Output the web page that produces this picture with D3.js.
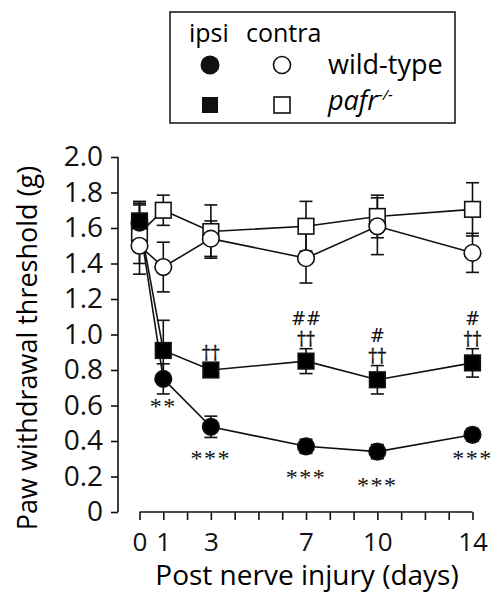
<!DOCTYPE html>
<html>
<head>
<meta charset="utf-8">
<script src="https://cdn.jsdelivr.net/npm/d3@7"></script>
<style>
  body { margin: 0; background: white; }
  svg { font-family: "Open Sans", "DejaVu Sans", sans-serif; }
  .axis path, .axis line { stroke: #111; stroke-width: 1.6; }
  .axis text { fill: #111; font-family: "Open Sans", sans-serif; }
</style>
</head>
<body>
<svg id="chart" width="495" height="596"></svg>
<script>
// days after nerve injury
const days = [0, 1, 3, 7, 10, 14]
const dayLabels = [0, 1, 3, 7, 10, 14]

// mean and SEM per group
const wtIpsi = [1.63, 0.75, 0.48, 0.37, 0.34, 0.435]
const wtIpsiErr = [0.1, 0.085, 0.06, 0.04, 0.04, 0.035]
const wtContra = [1.50, 1.38, 1.54, 1.43, 1.61, 1.46]
const wtContraErr = [0.16, 0.14, 0.1, 0.14, 0.16, 0.11]
const koIpsi = [1.64, 0.91, 0.80, 0.85, 0.745, 0.84]
const koIpsiErr = [0.11, 0.17, 0.04, 0.07, 0.08, 0.08]
const koContra = [1.57, 1.70, 1.58, 1.61, 1.665, 1.705]
const koContraErr = [0.17, 0.085, 0.15, 0.14, 0.12, 0.15]

// significance marks
const starMarks = ['', '**', '***', '***', '***', '***']
const daggerMarks = ['', '', '††', '††', '††', '††']
const hashMarks = ['', '', '', '##', '#', '#']

const yTicks = [0, 0.2, 0.4, 0.6, 0.8, 1.0, 1.2, 1.4, 1.6, 1.8, 2.0]

const svg = d3.select('#chart')

const x = d3.scaleLinear().domain([0, 14]).range([139.5, 472.5])
const y = d3.scaleLinear().domain([0, 2]).range([512, 157])

// y axis
svg.append('g')
  .attr('class', 'axis')
  .attr('transform', 'translate(118,0)')
  .call(d3.axisLeft(y).tickValues(yTicks).tickSize(7).tickPadding(8)
    .tickFormat(d => d == 0 ? '0' : d3.format('.1f')(d)))
  .call(g => g.select('.domain').attr('d', `M-0,${y(0)}V${y(2)}`))
  .call(g => g.attr('font-size', null).attr('font-family', null))
  .selectAll('text').style('font-size', '28px')

// x axis
svg.append('g')
  .attr('class', 'axis')
  .attr('transform', 'translate(0,512)')
  .call(d3.axisBottom(x).tickValues(d3.range(0, 15)).tickSize(8).tickPadding(13)
    .tickFormat(d => dayLabels.includes(d) ? d : ''))
  .call(g => g.select('.domain').attr('d', `M${x(0)},0H${x(14)}`))
  .call(g => g.attr('font-size', null).attr('font-family', null))
  .selectAll('text').style('font-size', '26px')

svg.append('text')
  .attr('x', 307).attr('y', 585)
  .attr('text-anchor', 'middle')
  .style('font-size', '28px')
  .text('Post nerve injury (days)')

svg.append('text')
  .attr('transform', 'translate(37,348) rotate(-90)')
  .attr('text-anchor', 'middle')
  .style('font-size', '27px')
  .text('Paw withdrawal threshold (g)')

const series = [
  {v: koContra, e: koContraErr, shape: 'square', fill: 'white'},
  {v: wtIpsi, e: wtIpsiErr, shape: 'circle', fill: 'black'},
  {v: wtContra, e: wtContraErr, shape: 'circle', fill: 'white'},
  {v: koIpsi, e: koIpsiErr, shape: 'square', fill: 'black'}
]

const line = d3.line().x(d => x(d[0])).y(d => y(d[1]))

const gLines = svg.append('g')
const gErr = svg.append('g')
const gMarks = svg.append('g')

series.forEach(s => {
  const pts = days.map((d, i) => [d, s.v[i], s.e[i]])
  gLines.append('path')
    .attr('d', line(pts))
    .attr('fill', 'none')
    .attr('stroke', '#111')
    .attr('stroke-width', 1.6)

  const eb = gErr.selectAll(null).data(pts).join('g')
  eb.append('line')
    .attr('x1', d => x(d[0])).attr('x2', d => x(d[0]))
    .attr('y1', d => y(d[1] - d[2])).attr('y2', d => y(d[1] + d[2]))
  eb.append('line')
    .attr('x1', d => x(d[0]) - 6.5).attr('x2', d => x(d[0]) + 6.5)
    .attr('y1', d => y(d[1] + d[2])).attr('y2', d => y(d[1] + d[2]))
  eb.append('line')
    .attr('x1', d => x(d[0]) - 6.5).attr('x2', d => x(d[0]) + 6.5)
    .attr('y1', d => y(d[1] - d[2])).attr('y2', d => y(d[1] - d[2]))
  eb.selectAll('line').attr('stroke', '#111').attr('stroke-width', 1.6)
})

series.forEach(s => {
  const pts = days.map((d, i) => [d, s.v[i]])
  if (s.shape == 'circle') {
    gMarks.selectAll(null).data(pts).join('circle')
      .attr('cx', d => x(d[0])).attr('cy', d => y(d[1]))
      .attr('r', 8.3)
      .attr('fill', s.fill).attr('stroke', '#111').attr('stroke-width', 1.6)
  } else {
    gMarks.selectAll(null).data(pts).join('rect')
      .attr('x', d => x(d[0]) - 7.8).attr('y', d => y(d[1]) - 7.8)
      .attr('width', 15.6).attr('height', 15.6)
      .attr('fill', s.fill).attr('stroke', '#111').attr('stroke-width', 1.6)
  }
})

// significance annotations
const serif = '"DejaVu Serif", "Liberation Serif", serif'
const gNote = svg.append('g')
const starOffset = [0, 35, 39, 39, 41, 31]
gNote.append('g').selectAll('text')
  .data(days.map((d, i) => ({d, m: starMarks[i], v: wtIpsi[i], off: starOffset[i]})))
  .join('text')
  .attr('x', d => x(d.d)).attr('y', d => y(d.v) + d.off)
  .attr('text-anchor', 'middle')
  .attr('fill', '#111')
  .style('font-family', '"Liberation Serif", serif').style('font-size', '24px')
  .style('letter-spacing', '1.5px')
  .text(d => d.m)

gNote.append('g').selectAll('text')
  .data(days.map((d, i) => ({d, m: daggerMarks[i], v: koIpsi[i] + koIpsiErr[i]})))
  .join('text')
  .attr('x', d => x(d.d)).attr('y', d => y(d.v) - 4)
  .attr('text-anchor', 'middle')
  .attr('fill', '#111')
  .attr('stroke', '#111').attr('stroke-width', 0.3)
  .style('font-family', serif).style('font-size', '18px')
  .text(d => d.m)

gNote.append('g').selectAll('text')
  .data(days.map((d, i) => ({d, m: hashMarks[i], v: koIpsi[i] + koIpsiErr[i]})))
  .join('text')
  .attr('x', d => x(d.d)).attr('y', d => y(d.v) - 24)
  .attr('text-anchor', 'middle')
  .attr('fill', '#111')
  .style('font-family', serif).style('font-size', '18px')
  .text(d => d.m)

// legend
const lg = svg.append('g')
lg.append('rect')
  .attr('x', 170).attr('y', 12).attr('width', 285).attr('height', 111)
  .attr('fill', 'white').attr('stroke', '#111').attr('stroke-width', 1.5)
lg.append('text').attr('x', 189).attr('y', 42).style('font-size', '25px').text('ipsi')
lg.append('text').attr('x', 246).attr('y', 42).style('font-size', '25px').text('contra')
lg.append('circle').attr('cx', 210).attr('cy', 65).attr('r', 9.5).attr('fill', '#111')
lg.append('circle').attr('cx', 282).attr('cy', 65).attr('r', 8.5)
  .attr('fill', 'white').attr('stroke', '#111').attr('stroke-width', 1.6)
lg.append('rect').attr('x', 202).attr('y', 97).attr('width', 16).attr('height', 16).attr('fill', '#111')
lg.append('rect').attr('x', 274).attr('y', 97).attr('width', 16).attr('height', 16)
  .attr('fill', 'white').attr('stroke', '#111').attr('stroke-width', 1.6)
lg.append('text').attr('x', 328).attr('y', 74).style('font-size', '27px').text('wild-type')
const kt = lg.append('text').attr('x', 328).attr('y', 110).style('font-size', '27px').style('font-style', 'italic')
kt.append('tspan').text('pafr')
kt.append('tspan').attr('dy', -10).style('font-size', '15px').text('-/-')
</script>
</body>
</html>
